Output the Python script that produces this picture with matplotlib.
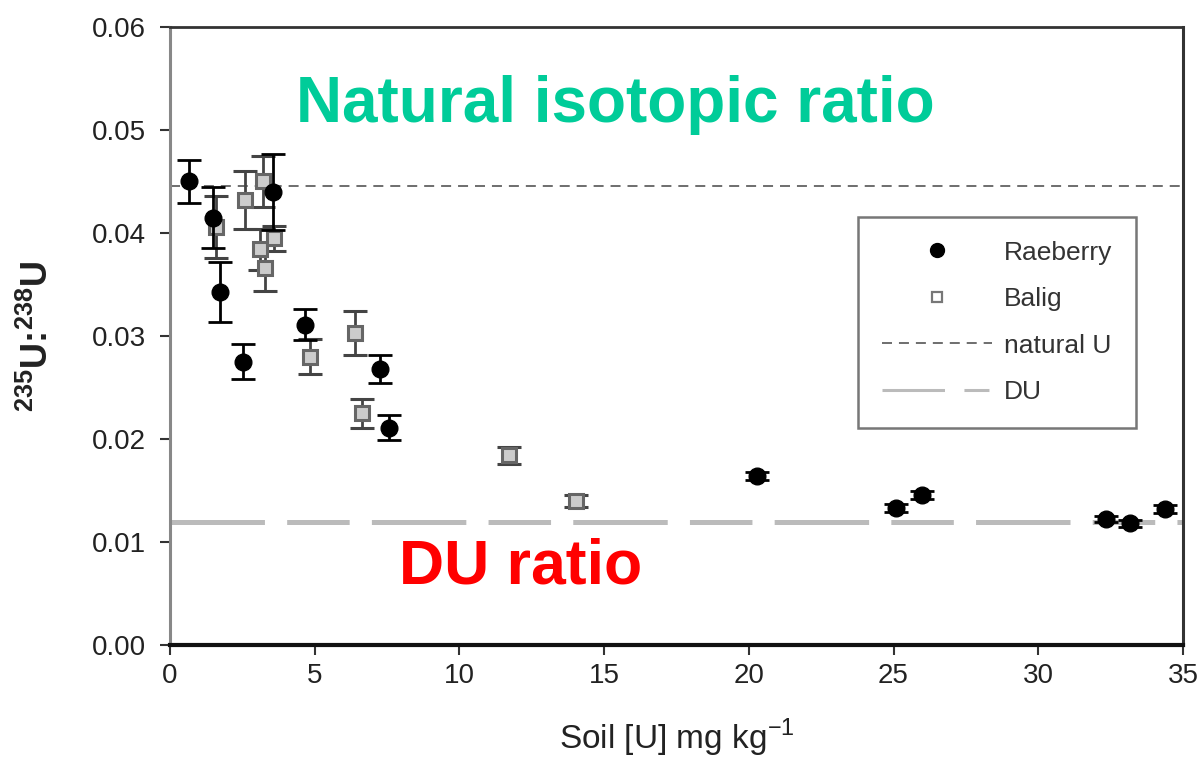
import matplotlib
matplotlib.use("Agg")
import matplotlib.pyplot as plt
from matplotlib.lines import Line2D
from matplotlib.ticker import FormatStrFormatter

plt.rcParams['font.family'] = ['Liberation Sans', 'DejaVu Sans']
plt.rcParams['mathtext.fontset'] = 'custom'
plt.rcParams['mathtext.rm'] = 'Liberation Sans'
plt.rcParams['mathtext.bf'] = 'Liberation Sans:bold'
plt.rcParams['lines.scale_dashes'] = False

# Raeberry site: soil uranium (mg/kg), 235U:238U ratio and its uncertainty
rae_x = [0.66, 1.49, 1.73, 2.52, 3.56, 4.66, 7.26, 7.57, 20.28, 25.09, 25.98, 32.34, 33.17, 34.38]
rae_y = [0.0450, 0.0415, 0.0343, 0.0275, 0.0440, 0.0311, 0.0268, 0.0211, 0.0164, 0.0133, 0.0146, 0.0122, 0.0118, 0.0132]
rae_err = [0.0021, 0.0030, 0.0029, 0.0017, 0.0037, 0.0015, 0.0014, 0.0012, 0.0004, 0.0004, 0.0004, 0.0003, 0.0003, 0.0004]

# Balig site
bal_x = [1.6, 2.59, 3.2, 3.1, 3.3, 3.6, 4.84, 6.39, 6.63, 11.71, 14.03]
bal_y = [0.0406, 0.0432, 0.0450, 0.0384, 0.0366, 0.0395, 0.0280, 0.0303, 0.0225, 0.0184, 0.0140]
bal_err = [0.0030, 0.0028, 0.0025, 0.0020, 0.0022, 0.0012, 0.0017, 0.0021, 0.0014, 0.0008, 0.0006]

natural_u = 0.0446
du_ratio = 0.0119

x_ticks = [0, 5, 10, 15, 20, 25, 30, 35]
y_ticks = [0.00, 0.01, 0.02, 0.03, 0.04, 0.05, 0.06]

fig = plt.figure(figsize=(12.01, 7.62), dpi=100)
ax = fig.add_axes([0.1415, 0.1535, 0.8435, 0.8111])

ax.axhline(natural_u, color='#555555', lw=1.2, dashes=(7.2, 5.0), zorder=1)
ax.axhline(du_ratio, color='#bbbbbb', lw=3.6, dashes=(68, 16, 45, 16), zorder=1)

ax.errorbar(bal_x, bal_y, yerr=bal_err, fmt='s', ms=10.5, mfc='#cccccc', mec='#666666',
            mew=2.2, ecolor='#444444', elinewidth=2.0, capsize=8.5, capthick=2.0, zorder=3)
ax.errorbar(rae_x, rae_y, yerr=rae_err, fmt='o', ms=12, mfc='black', mec='black',
            ecolor='black', elinewidth=2.0, capsize=8.5, capthick=2.0, zorder=4)

ax.set_xlim(0, 35)
ax.set_ylim(0, 0.06)
ax.set_xticks(x_ticks)
ax.set_yticks(y_ticks)
ax.yaxis.set_major_formatter(FormatStrFormatter('%.2f'))
ax.tick_params(axis='both', direction='out', length=7, width=1.5, colors='#333333',
               labelsize=20, labelcolor='#222222')
ax.tick_params(axis='y', pad=10)
ax.tick_params(axis='x', pad=6)

ax.spines['left'].set_color('#888888')
ax.spines['left'].set_linewidth(2.2)
ax.spines['bottom'].set_color('#111111')
ax.spines['bottom'].set_linewidth(3.0)
ax.spines['right'].set_color('#333333')
ax.spines['right'].set_linewidth(2.2)
ax.spines['top'].set_color('#333333')
ax.spines['top'].set_linewidth(2.0)

ax.set_xlabel('Soil [U] mg kg$^{-1}$', fontsize=24, color='#222222', labelpad=20)
ax.set_ylabel('$^{\\mathbf{235}}$U:$^{\\mathbf{238}}$U', fontsize=26, fontweight='bold',
              color='#222222', labelpad=26)

ax.text(15.4, 0.0508, 'Natural isotopic ratio', color='#00cc99', fontsize=46,
        fontweight='bold', ha='center', va='baseline')
ax.text(12.1, 0.0060, 'DU ratio', color='#ff0000', fontsize=45,
        fontweight='bold', ha='center', va='baseline')

handles = [
    Line2D([], [], ls='none', marker='o', ms=10, mfc='black', mec='black'),
    Line2D([], [], ls='none', marker='s', ms=7.5, mfc='white', mec='#777777', mew=1.6),
    Line2D([], [], color='#555555', lw=1.2, dashes=(7.2, 5.0)),
    Line2D([], [], color='#bbbbbb', lw=2.2, dashes=(45, 14, 18, 14)),
]
labels = ['Raeberry', 'Balig', 'natural U', 'DU']
leg = ax.legend(handles, labels, loc='upper left', bbox_to_anchor=(0.679, 0.6926),
                borderaxespad=0, fontsize=19, handlelength=4.2, handletextpad=0.45,
                labelspacing=0.85, borderpad=0.9, fancybox=False, framealpha=1,
                edgecolor='#777777')
leg.get_frame().set_linewidth(1.8)
for t in leg.get_texts():
    t.set_color('#333333')

fig.savefig('out.png', dpi=100)
